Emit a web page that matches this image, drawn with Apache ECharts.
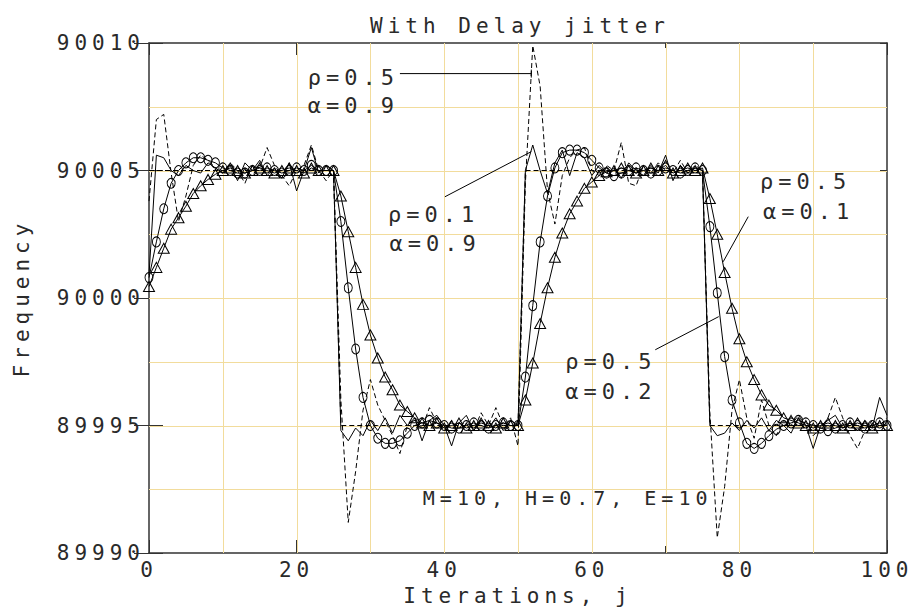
<!DOCTYPE html>
<html><head><meta charset="utf-8">
<script src="https://cdn.jsdelivr.net/npm/echarts@6/dist/echarts.min.js"></script>
<style>
html,body{margin:0;padding:0;background:#fff}
#c{width:914px;height:613px}
#c svg text{letter-spacing:5px}
</style>
</head><body><div id="c"></div>
<script>
// ---- data ----
const iterations = [
  0,1,2,3,4,5,6,7,8,9, 10,11,12,13,14,15,16,17,18,19, 20,21,22,23,24,25,26,27,28,29,
  30,31,32,33,34,35,36,37,38,39, 40,41,42,43,44,45,46,47,48,49, 50,51,52,53,54,55,56,57,58,59,
  60,61,62,63,64,65,66,67,68,69, 70,71,72,73,74,75,76,77,78,79, 80,81,82,83,84,85,86,87,88,89,
  90,91,92,93,94,95,96,97,98,99, 100];

const reference = [
  90005,90005,90005,90005,90005,90005,90005,90005,90005,90005,
  90005,90005,90005,90005,90005,90005,90005,90005,90005,90005,
  90005,90005,90005,90005,90005,90005,89995,89995,89995,89995,
  89995,89995,89995,89995,89995,89995,89995,89995,89995,89995,
  89995,89995,89995,89995,89995,89995,89995,89995,89995,89995,
  89995,90005,90005,90005,90005,90005,90005,90005,90005,90005,
  90005,90005,90005,90005,90005,90005,90005,90005,90005,90005,
  90005,90005,90005,90005,90005,90005,89995,89995,89995,89995,
  89995,89995,89995,89995,89995,89995,89995,89995,89995,89995,
  89995,89995,89995,89995,89995,89995,89995,89995,89995,89995,
  89995];

// rho=0.5, alpha=0.9 (dashed)
const rho05alpha09 = [
  90003.8,90007.0,90007.2,90004.9,90003.0,90004.0,90005.2,90005.6,90005.4,90005.1,
  90004.9,90005.3,90005.0,90004.5,90005.2,90005.1,90005.9,90005.2,90004.8,90004.4,
  90005.0,90005.2,90006.0,90005.0,90004.6,90005.0,89996.0,89991.2,89993.2,89995.6,
  89996.8,89995.8,89995.2,89994.6,89993.9,89995.0,89995.3,89994.9,89995.7,89995.1,
  89994.8,89995.2,89994.9,89995.2,89994.8,89995.5,89995.0,89995.7,89995.0,89995.3,
  89994.2,90004.5,90009.9,90008.3,90004.2,90002.9,90004.8,90005.5,90005.8,90005.9,
  90005.0,90004.8,90005.2,90005.0,90006.1,90004.5,90004.4,90005.2,90004.9,90005.3,
  90005.0,90004.9,90005.4,90004.9,90005.2,90005.0,89995.5,89990.6,89992.6,89995.6,
  89996.8,89995.3,89994.5,89996.0,89995.0,89994.6,89995.2,89995.0,89995.4,89995.0,
  89994.6,89994.9,89995.3,89996.1,89995.3,89994.6,89994.1,89994.8,89995.2,89995.0,
  89995.3];

// rho=0.1, alpha=0.9 (solid)
const rho01alpha09 = [
  90000.9,90005.6,90005.5,90005.0,90004.8,90005.2,90005.0,90004.9,90005.3,90005.1,
  90004.9,90005.2,90004.6,90005.3,90005.0,90005.4,90004.8,90005.1,90004.7,90005.3,
  90004.2,90005.0,90005.9,90004.9,90005.2,90005.0,89994.8,89994.4,89994.9,89994.6,
  89995.2,89994.8,89995.3,89994.7,89995.4,89995.0,89995.3,89994.4,89995.2,89995.4,
  89995.0,89994.2,89995.1,89995.4,89994.8,89995.2,89994.9,89995.3,89994.8,89995.2,
  89995.0,90005.0,90006.0,90005.0,90004.1,90005.3,90005.8,90004.8,90005.7,90005.5,
  90004.8,90005.2,90004.9,90005.1,90004.7,90005.3,90005.0,90004.8,90005.2,90004.9,
  90005.6,90004.6,90005.2,90004.9,90005.1,90005.0,89995.0,89994.6,89994.7,89995.1,
  89994.8,89995.2,89994.9,89995.3,89994.8,89995.2,89995.0,89994.7,89995.3,89995.0,
  89994.1,89995.0,89995.2,89995.4,89994.9,89995.1,89994.8,89995.2,89994.9,89996.1,
  89995.4];

// rho=0.5, alpha=0.2 (circles)
const rho05alpha02 = [
  90000.8,90002.2,90003.5,90004.5,90005.0,90005.3,90005.5,90005.5,90005.4,90005.3,
  90005.1,90005.0,90004.9,90004.9,90005.0,90005.0,90005.1,90005.0,90004.9,90005.0,
  90005.1,90005.0,90005.2,90005.0,90005.0,90005.0,90003.0,90000.4,89998.0,89996.1,
  89995.0,89994.5,89994.3,89994.3,89994.4,89994.7,89995.0,89995.1,89995.2,89995.1,
  89995.0,89994.9,89994.9,89995.0,89995.1,89995.0,89994.9,89995.0,89995.1,89995.0,
  89995.0,89996.9,89999.7,90002.2,90004.0,90005.1,90005.7,90005.8,90005.8,90005.7,
  90005.4,90005.1,90004.9,90004.8,90004.9,90005.0,90005.1,90005.0,90004.9,90005.0,
  90005.1,90005.0,90004.9,90005.0,90005.1,90005.0,90002.8,90000.2,89997.7,89996.0,
  89995.1,89994.3,89994.1,89994.3,89994.6,89994.85,89995.0,89995.1,89995.2,89995.1,
  89995.0,89994.9,89994.8,89994.9,89995.0,89995.1,89995.0,89994.9,89995.0,89995.1,
  89995.0];

// rho=0.5, alpha=0.1 (triangles)
const rho05alpha01 = [
  90000.45,90001.2,90001.95,90002.7,90003.15,90003.6,90004.1,90004.4,90004.65,90004.85,
  90005.0,90005.1,90005.0,90004.9,90005.0,90005.1,90005.0,90004.9,90005.0,90005.1,
  90005.0,90004.9,90005.1,90005.0,90005.0,90005.0,90004.0,90002.6,90001.2,89999.75,
  89998.55,89997.65,89996.9,89996.4,89995.8,89995.55,89995.3,89995.1,89995.0,89995.1,
  89994.9,89995.0,89995.1,89994.9,89995.0,89995.1,89995.0,89994.9,89995.1,89995.0,
  89995.0,89996.0,89997.45,89999.0,90000.4,90001.6,90002.55,90003.3,90003.8,90004.3,
  90004.55,90004.8,90004.95,90005.0,90005.1,90005.0,90004.9,90005.0,90005.1,90005.0,
  90005.2,90004.9,90005.0,90005.1,90005.0,90005.1,90003.9,90002.5,90001.0,89999.6,
  89998.4,89997.5,89996.8,89996.2,89995.8,89995.6,89995.3,89995.2,89995.1,89995.0,
  89994.9,89995.0,89995.1,89995.0,89994.9,89995.0,89995.1,89995.0,89994.9,89995.0,
  89995.0];

// grid line values
const xGridValues = [10,20,30,40,50,60,70,80,90];
const yGridValues = [89992.5,89995,89997.5,90000,90002.5,90005,90007.5];

const titleText = 'With Delay jitter';
const xName = 'Iterations, j';
const yName = 'Frequency';

// annotations (data coordinates)
const notes = [
  {t:'ρ=0.5', x:21.5, y:90008.64, s:22}, {t:'α=0.9', x:21.5, y:90007.54, s:22},
  {t:'ρ=0.1', x:32.4, y:90003.27, s:22}, {t:'α=0.9', x:32.6, y:90002.13, s:22},
  {t:'ρ=0.5', x:82.8, y:90004.56, s:22}, {t:'α=0.1', x:83.2, y:90003.38, s:22},
  {t:'ρ=0.5', x:56.4, y:89997.5, s:22},  {t:'α=0.2', x:56.4, y:89996.33, s:22},
  {t:'M=10, H=0.7, E=10', x:37.1, y:89992.17, s:20}
];
const pointers = [
  [[34.0,90008.8],[51.8,90008.8]],
  [[40.1,90003.97],[51.8,90005.74]],
  [[81.2,90003.19],[77.8,90001.42]],
  [[68.6,89997.97],[77.2,89999.27]]
];

// ---- chart ----
const FONT = '"DejaVu Sans Mono", monospace';
const GRID = '#f2dc9c';
const AX = '#333';
const TXT = '#2a2a2a';
const pairs = ys => ys.map((v,i) => [iterations[i], v]);
const chart = echarts.init(document.getElementById('c'), null, {renderer:'svg'});

function xAx(pos, interval, tickLen, extra) {
  return Object.assign({
    type:'value', min:0, max:100, interval:interval, position:pos,
    axisLine:{show:true, onZero:false, lineStyle:{color:AX, width:1.5}},
    axisTick:{show:true, inside:true, length:tickLen, lineStyle:{color:AX, width:1}},
    splitLine:{show:false}, minorSplitLine:{show:false}, axisLabel:{show:false}
  }, extra || {});
}
function yAx(pos, interval, tickLen, extra) {
  return Object.assign({
    type:'value', min:89990, max:90010, interval:interval, position:pos,
    axisLine:{show:true, onZero:false, lineStyle:{color:AX, width:1.5}},
    axisTick:{show:true, inside:true, length:tickLen, lineStyle:{color:AX, width:1}},
    splitLine:{show:false}, minorSplitLine:{show:false}, axisLabel:{show:false}
  }, extra || {});
}

chart.setOption({
  animation:false,
  backgroundColor:'#fff',
  title:{text:titleText, left:515, top:10, textAlign:'center',
    textStyle:{fontFamily:FONT, fontSize:21, fontWeight:'normal', color:TXT}},
  grid:{left:149, right:27, top:43, bottom:60, containLabel:false},
  xAxis:[
    xAx('bottom', 10, 7, {
      axisLabel:{show:true, fontFamily:FONT, fontSize:21, color:TXT, margin:6,
        formatter:v => (Math.round(v) % 20 === 0 ? String(Math.round(v)) : '')},
      name:xName, nameLocation:'middle', nameGap:32,
      nameTextStyle:{fontFamily:FONT, fontSize:21, color:TXT}}),
    xAx('top', 10, 5),
    xAx('bottom', 20, 13, {axisLine:{show:false}}),
    xAx('top', 20, 12, {axisLine:{show:false}})
  ],
  yAxis:[
    yAx('left', 2.5, 8, {
      axisLabel:{show:true, fontFamily:FONT, fontSize:21, color:TXT, margin:4,
        formatter:v => (Math.abs(v % 5) < 1e-6 ? String(Math.round(v)) : '')},
      name:yName, nameLocation:'middle', nameGap:117, nameRotate:90,
      nameTextStyle:{fontFamily:FONT, fontSize:21, color:TXT}}),
    yAx('right', 2.5, 7),
    yAx('left', 5, 14, {axisLine:{show:false}}),
    yAx('right', 5, 15, {axisLine:{show:false}})
  ],
  series:[
    {type:'line', name:'reference', data:pairs(reference), showSymbol:false,
      lineStyle:{color:'#000', width:1, type:[5,3]}, z:2},
    {type:'line', name:'ρ=0.5 α=0.9', data:pairs(rho05alpha09), showSymbol:false,
      lineStyle:{color:'#000', width:1, type:[5,3]}, z:3},
    {type:'line', name:'ρ=0.1 α=0.9', data:pairs(rho01alpha09), showSymbol:false,
      lineStyle:{color:'#000', width:1}, z:3},
    {type:'line', name:'ρ=0.5 α=0.2', data:pairs(rho05alpha02), showAllSymbol:true,
      symbol:'circle', symbolSize:[8,10],
      itemStyle:{color:'rgba(0,0,0,0)', borderColor:'#000', borderWidth:1},
      lineStyle:{color:'#000', width:1}, z:4},
    {type:'line', name:'ρ=0.5 α=0.1', data:pairs(rho05alpha01), showAllSymbol:true,
      symbol:'triangle', symbolSize:[11,10],
      itemStyle:{color:'rgba(0,0,0,0)', borderColor:'#000', borderWidth:1},
      lineStyle:{color:'#000', width:1}, z:4}
  ]
});

// grid lines, annotations: positions computed through the chart's own scales
const toPx = p => chart.convertToPixel({xAxisIndex:0, yAxisIndex:0}, p);
const graphics = [];
const lo = toPx([0, 89990]), hi = toPx([100, 90010]);
xGridValues.forEach(v => {
  const x = Math.round(toPx([v, 90000])[0]) + 0.5;
  graphics.push({type:'line', z:1, silent:true, shape:{x1:x, y1:hi[1], x2:x, y2:lo[1]},
    style:{stroke:GRID, lineWidth:1}});
});
yGridValues.forEach(v => {
  const y = Math.round(toPx([50, v])[1]) + 0.5;
  graphics.push({type:'line', z:1, silent:true, shape:{x1:lo[0], y1:y, x2:hi[0], y2:y},
    style:{stroke:GRID, lineWidth:1}});
});
notes.forEach(n => {
  const p = toPx([n.x, n.y]);
  graphics.push({type:'text', x:p[0], y:p[1], z:10,
    style:{text:n.t, fontFamily:FONT, fontSize:n.s, fill:TXT, verticalAlign:'middle', align:'left'}});
});
pointers.forEach((seg, i) => {
  const a = toPx(seg[0]), b = toPx(seg[1]);
  graphics.push({type:'line', z:10, shape:{x1:a[0], y1:a[1], x2:b[0], y2:b[1]},
    style:{stroke:'#000', lineWidth:1}});
  if (i === 0) {
    graphics.push({type:'line', z:10, shape:{x1:b[0], y1:b[1]-4, x2:b[0], y2:b[1]+4},
      style:{stroke:'#000', lineWidth:1}});
  }
});
chart.setOption({graphic:graphics});
</script>
</body></html>
